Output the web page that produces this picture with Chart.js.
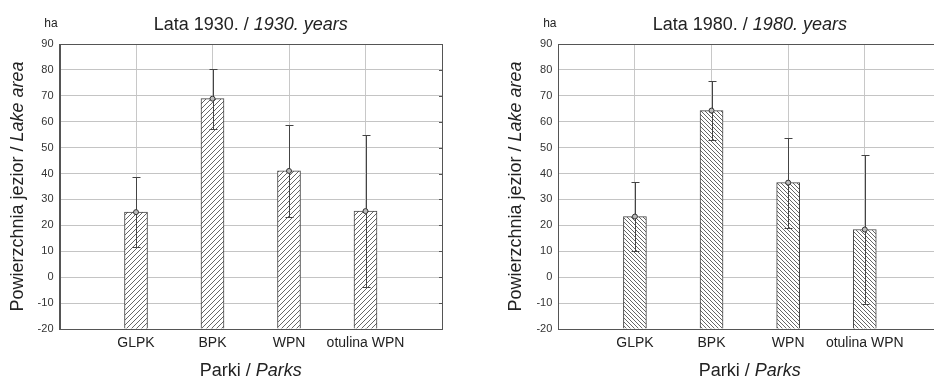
<!DOCTYPE html>
<html>
<head>
<meta charset="utf-8">
<script src="https://cdn.jsdelivr.net/npm/chart.js@4"></script>
<style>
  html, body { margin: 0; padding: 0; background: #fff; overflow: hidden; }
  body { width: 934px; height: 379px; position: relative; }
  .box { position: absolute; top: 0; height: 379px; }
</style>
</head>
<body>
<div class="box" style="left:0;width:467px"><canvas id="chart1930"></canvas></div>
<div class="box" style="left:470px;width:480px"><canvas id="chart1980"></canvas></div>
<script>
// lake area per park, mean and +/- error (ha)
const categories = ['GLPK', 'BPK', 'WPN', 'otulina WPN'];
const means1930 = [25.1, 68.9, 41.0, 25.5];
const errors1930 = [13.6, 11.6, 17.7, 29.4];
const means1980 = [23.4, 64.3, 36.5, 18.4];
const errors1980 = [13.2, 11.3, 17.4, 28.9];
const yTicks = { min: -20, max: 90, step: 10 };

const FONT = 'Arial, "Liberation Sans", sans-serif';

function hatch(dir, gap) {
  const c = document.createElement('canvas');
  c.width = gap; c.height = gap;
  const g = c.getContext('2d');
  g.fillStyle = '#fff';
  g.fillRect(0, 0, gap, gap);
  g.strokeStyle = '#555';
  g.lineWidth = 0.9;
  g.beginPath();
  if (dir === '/') {
    g.moveTo(-1, gap + 1); g.lineTo(gap + 1, -1);
    g.moveTo(-1, 1); g.lineTo(1, -1);
    g.moveTo(gap - 1, gap + 1); g.lineTo(gap + 1, gap - 1);
  } else {
    g.moveTo(-1, -1); g.lineTo(gap + 1, gap + 1);
    g.moveTo(gap - 1, -1); g.lineTo(gap + 1, 1);
    g.moveTo(-1, gap - 1); g.lineTo(1, gap + 1);
  }
  g.stroke();
  return g.createPattern(c, 'repeat');
}

function drawParts(ctx, parts, x, y, size) {
  // parts: [[text, italic], ...] centered on x
  let total = 0;
  const widths = parts.map(([t, it]) => {
    ctx.font = (it ? 'italic ' : '') + size + 'px ' + FONT;
    const w = ctx.measureText(t).width;
    total += w;
    return w;
  });
  let cx = x - total / 2;
  parts.forEach(([t, it], i) => {
    ctx.font = (it ? 'italic ' : '') + size + 'px ' + FONT;
    ctx.fillText(t, cx, y);
    cx += widths[i];
  });
}

const decorPlugin = {
  id: 'decor',
  beforeDatasetsDraw(chart) {
    const { ctx, chartArea: a } = chart;
    ctx.save();
    ctx.strokeStyle = '#555';
    ctx.lineWidth = 1;
    ctx.strokeRect(Math.round(a.left) + 0.5, Math.round(a.top) + 0.5,
      Math.round(a.right) - Math.round(a.left), Math.round(a.bottom) - Math.round(a.top));
    // short inner ticks on the right frame
    const ys = chart.scales.y;
    ctx.beginPath();
    ys.ticks.forEach(t => {
      const py = Math.round(ys.getPixelForValue(t.value)) + 0.5;
      ctx.moveTo(Math.round(a.right), py);
      ctx.lineTo(Math.round(a.right) - 3, py);
    });
    ctx.stroke();
    ctx.restore();
  },
  afterDatasetDraw(chart, args) {
    if (args.index !== 1) return;
    const errs = chart.options.plugins.decor.errors;
    const means = chart.data.datasets[1].data;
    const ys = chart.scales.y;
    const meta = chart.getDatasetMeta(1);
    const ctx = chart.ctx;
    ctx.save();
    ctx.strokeStyle = '#444';
    ctx.lineWidth = 1;
    ctx.beginPath();
    meta.data.forEach((bar, i) => {
      const m = means[i];
      if (m == null) return;
      const e = errs[i - 1];
      const x = Math.round(bar.x) + 0.5;
      const top = Math.round(ys.getPixelForValue(m + e)) + 0.5;
      const bot = Math.round(ys.getPixelForValue(m - e)) + 0.5;
      ctx.moveTo(x, top); ctx.lineTo(x, bot);
      ctx.moveTo(x - 4, top); ctx.lineTo(x + 4, top);
      ctx.moveTo(x - 4, bot); ctx.lineTo(x + 4, bot);
    });
    ctx.stroke();
    ctx.restore();
  },
  afterDraw(chart) {
    const { ctx, chartArea: a } = chart;
    const o = chart.options.plugins.decor;
    const cx = (a.left + a.right) / 2;
    ctx.save();
    ctx.fillStyle = '#222';
    ctx.textBaseline = 'alphabetic';
    drawParts(ctx, [['Lata ' + o.year + '. / ', false], [o.year + '. years', true]], cx, 29.5, 18);
    ctx.font = '12px ' + FONT;
    ctx.textAlign = 'center';
    ctx.fillText('ha', a.left - 8.5, 27);
    ctx.textAlign = 'left';
    drawParts(ctx, [['Parki / ', false], ['Parks', true]], cx, 375.5, 18);
    ctx.translate(a.left - 37, (a.top + a.bottom) / 2);
    ctx.rotate(-Math.PI / 2);
    drawParts(ctx, [['Powierzchnia jezior / ', false], ['Lake area', true]], 0, 0, 18);
    ctx.restore();
  }
};

function makeChart(id, year, means, errors, pattern, axisWidth, padRight) {
  const labels = ['', ...categories, ''];
  const values = [null, ...means, null];
  return new Chart(document.getElementById(id), {
    type: 'bar',
    data: {
      labels: labels,
      datasets: [
        {
          type: 'line',
          data: values,
          showLine: false,
          order: 0,
          pointStyle: 'circle',
          pointRadius: 2.5,
          pointBorderWidth: 1,
          pointBorderColor: '#333',
          pointBackgroundColor: '#bbb'
        },
        {
          data: values,
          order: 1,
          base: yTicks.min,
          backgroundColor: pattern,
          borderColor: '#444',
          borderWidth: 1,
          barThickness: 23
        }
      ]
    },
    options: {
      responsive: false,
      animation: false,
      events: [],
      layout: { padding: { left: 0, right: padRight, top: 44, bottom: 0 } },
      plugins: {
        legend: { display: false },
        tooltip: { enabled: false },
        decor: { year: year, errors: errors }
      },
      scales: {
        x: {
          offset: false,
          grid: { color: '#c8c8c8', drawTicks: false, offset: false },
          border: { color: '#555' },
          ticks: { color: '#222', padding: 6, maxRotation: 0, autoSkip: false,
                   font: { family: FONT, size: 14 } },
          afterFit(s) { s.height = 50; }
        },
        y: {
          min: yTicks.min,
          max: yTicks.max,
          ticks: { stepSize: yTicks.step, color: '#333', padding: 6,
                   font: { family: FONT, size: 11 } },
          grid: { color: '#c4c4c4', drawTicks: false },
          border: { color: '#555' },
          afterFit(s) { s.width = axisWidth; }
        }
      }
    },
    plugins: [decorPlugin]
  });
}

function sizeCanvas(id, w, h) {
  const c = document.getElementById(id);
  c.width = w; c.height = h;
  c.style.width = w + 'px'; c.style.height = h + 'px';
}
sizeCanvas('chart1930', 467, 379);
sizeCanvas('chart1980', 480, 379);

makeChart('chart1930', '1930', means1930, errors1930, hatch('/', 5), 59.5, 25);
makeChart('chart1980', '1980', means1980, errors1980, hatch('\\', 4), 88.3, 8.6);
</script>
</body>
</html>
